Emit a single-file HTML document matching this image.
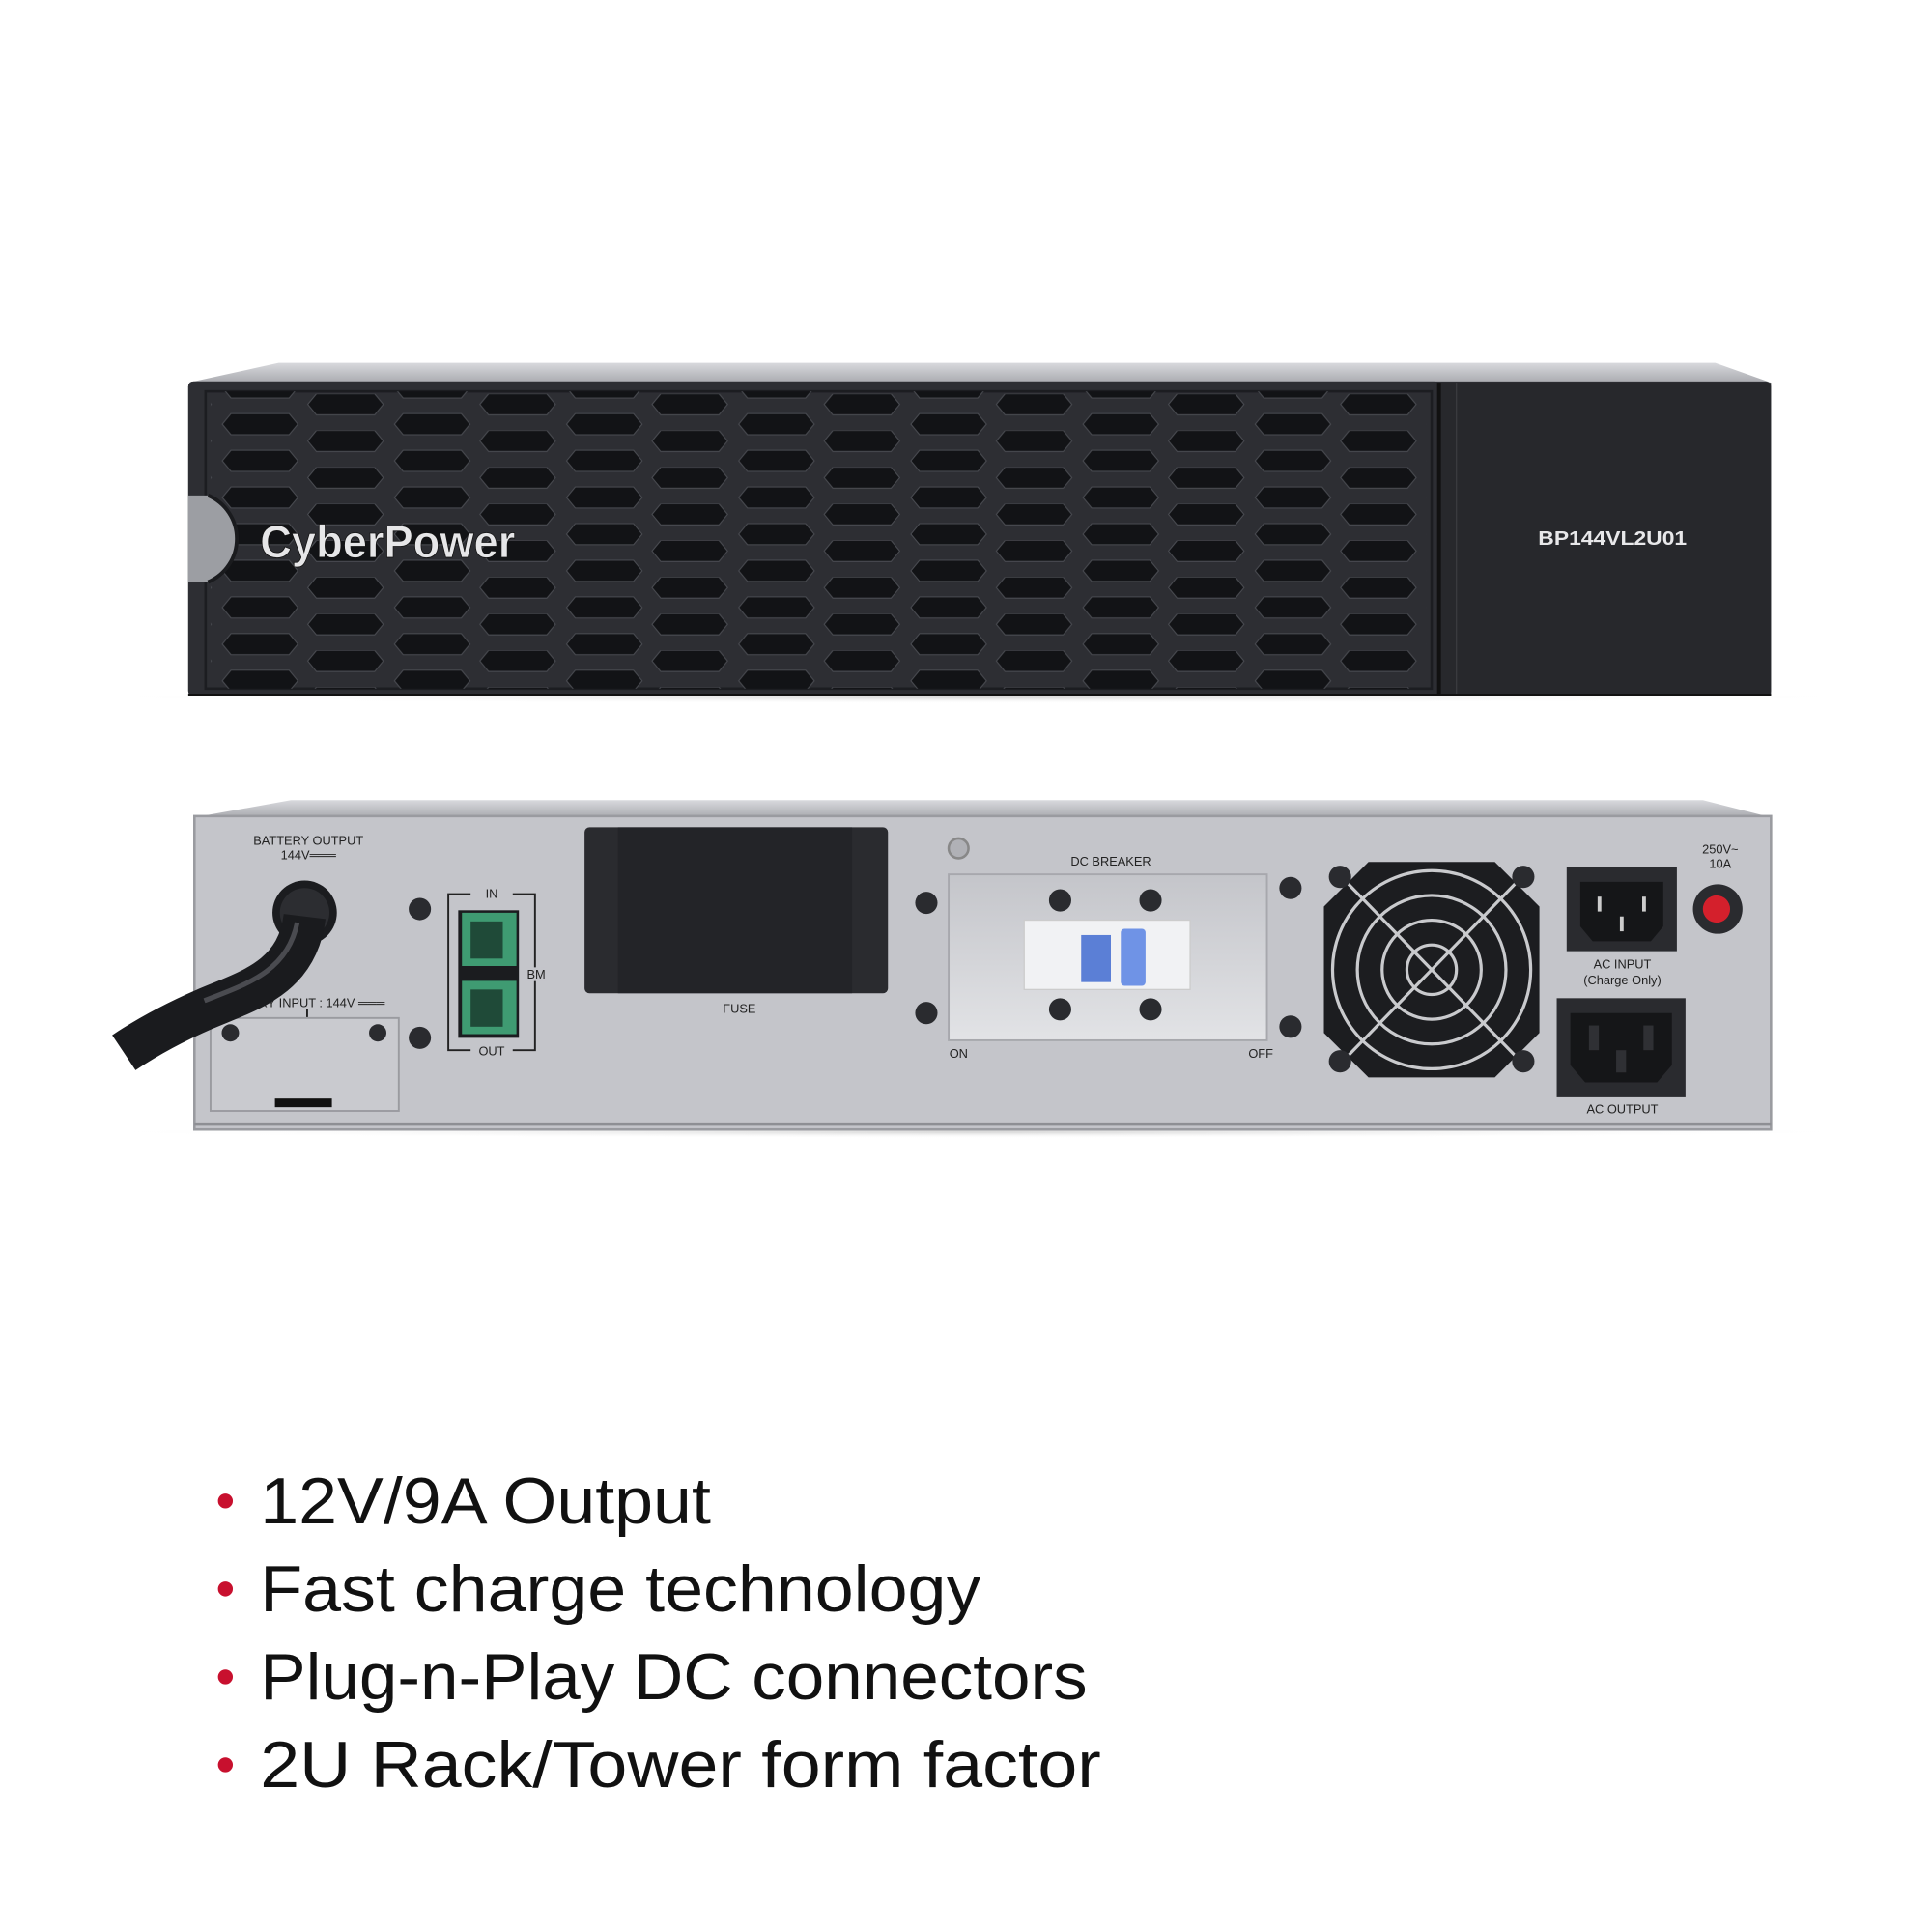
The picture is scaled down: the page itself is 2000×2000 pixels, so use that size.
<!DOCTYPE html>
<html><head><meta charset="utf-8"><style>
html,body{margin:0;padding:0;background:#fff;}
svg{display:block;}
text{font-family:"Liberation Sans",sans-serif;}
</style></head><body>
<svg width="2000" height="2000" viewBox="0 0 1560 1560" xmlns="http://www.w3.org/2000/svg">
<defs>
<pattern id="slots" patternUnits="userSpaceOnUse" x="148" y="318" width="139" height="29.6">
 <g fill="#121316" stroke="#4a4c52" stroke-width="0.8">
  <polygon transform="translate(100.5,0)" points="7,0 54,0 61,8.5 54,17 7,17 0,8.5"/>
  <polygon transform="translate(-38.5,0)" points="7,0 54,0 61,8.5 54,17 7,17 0,8.5"/>
  <polygon transform="translate(31.5,16)" points="7,0 54,0 61,8.5 54,17 7,17 0,8.5"/>
  <polygon transform="translate(31.5,-13.6)" points="7,0 54,0 61,8.5 54,17 7,17 0,8.5"/>
 </g>
</pattern>
<linearGradient id="topg" x1="0" y1="0" x2="0" y2="1"><stop offset="0" stop-color="#d8d9dd"/><stop offset="1" stop-color="#a9aaaf"/></linearGradient>
<linearGradient id="plate" x1="0" y1="0" x2="0" y2="1"><stop offset="0" stop-color="#c4c5ca"/><stop offset="1" stop-color="#e2e3e6"/></linearGradient>
<radialGradient id="shadow" cx="0.5" cy="0.5" r="0.5"><stop offset="0" stop-color="#bbb" stop-opacity="0.6"/><stop offset="1" stop-color="#fff" stop-opacity="0"/></radialGradient>
</defs>

<!-- FRONT UNIT -->
<ellipse cx="790" cy="563" rx="740" ry="5" fill="url(#shadow)"/>
<polygon points="152,309 225,293 1385,293 1430,309" fill="url(#topg)"/>
<rect x="152" y="308" width="1278" height="254" rx="4" fill="#2b2c31"/>
<rect x="152" y="308" width="1010" height="254" rx="4" fill="#2d2e33"/>
<rect x="166" y="316" width="990" height="240" fill="none" stroke="#1c1d21" stroke-width="2"/>
<rect x="170" y="316" width="982" height="240" fill="url(#slots)"/>
<rect x="1160" y="309" width="270" height="253" fill="#27282c"/>
<line x1="1162" y1="309" x2="1162" y2="562" stroke="#111" stroke-width="3"/>
<line x1="1176" y1="309" x2="1176" y2="562" stroke="#3a3b40" stroke-width="1"/>
<!-- left notch -->
<path d="M152,400 L168,400 A38,38 0 0 1 168,470 L152,470 Z" fill="#9c9ea3"/>
<path d="M168,400 A38,38 0 0 1 168,470" fill="none" stroke="#1a1b1e" stroke-width="3"/>
<!-- logo -->
<text x="210" y="450" font-size="37" font-weight="bold" fill="#e6e6e8" stroke="#111" stroke-width="0.6" textLength="206" lengthAdjust="spacingAndGlyphs">CyberPower</text>
<text x="1302" y="440" font-size="16" font-weight="bold" fill="#e8e8ea" text-anchor="middle" textLength="120" lengthAdjust="spacingAndGlyphs">BP144VL2U01</text>
<line x1="152" y1="561" x2="1430" y2="561" stroke="#111" stroke-width="2"/>

<!-- REAR UNIT -->
<ellipse cx="790" cy="914" rx="740" ry="5" fill="url(#shadow)"/>
<polygon points="157,660 235,646 1375,646 1430,660" fill="url(#topg)"/>
<rect x="157" y="659" width="1273" height="253" fill="#c4c5ca"/>
<rect x="157" y="659" width="1273" height="253" fill="none" stroke="#9a9ba0" stroke-width="2"/>
<line x1="157" y1="908" x2="1430" y2="908" stroke="#8e8f94" stroke-width="2"/>

<!-- battery output -->
<text x="249" y="682" font-size="10" fill="#222" text-anchor="middle">BATTERY OUTPUT</text>
<text x="249" y="694" font-size="10" fill="#222" text-anchor="middle">144V═══</text>
<!-- battery input plate -->
<text x="190" y="813" font-size="10" fill="#222">TTERY INPUT : 144V ═══</text>
<line x1="248" y1="815" x2="248" y2="822" stroke="#222" stroke-width="1.5"/>
<rect x="170" y="822" width="152" height="75" fill="#c9cacf" stroke="#9a9ba0" stroke-width="1.5"/>
<circle cx="186" cy="834" r="7" fill="#2a2b2f"/>
<circle cx="305" cy="834" r="7" fill="#2a2b2f"/>
<rect x="222" y="887" width="46" height="7" fill="#111"/>
<!-- cable gland + cable -->
<circle cx="246" cy="737" r="26" fill="#1b1c1f"/>
<circle cx="246" cy="737" r="20" fill="#2c2d31"/>
<path d="M246,740 C240,790 200,800 165,815 C135,828 115,840 100,850" fill="none" stroke="#1a1b1e" stroke-width="34" stroke-linecap="butt"/>
<path d="M240,745 C232,785 198,795 165,808" fill="none" stroke="#4a4b50" stroke-width="4"/>

<!-- screws -->
<g fill="#2a2b2f">
<circle cx="339" cy="734" r="9"/><circle cx="339" cy="838" r="9"/>
<circle cx="748" cy="729" r="9"/><circle cx="748" cy="818" r="9"/>
<circle cx="1042" cy="717" r="9"/><circle cx="1042" cy="829" r="9"/>
</g>
<!-- BM ports -->
<path d="M380,722 L362,722 L362,848 L380,848 M414,722 L432,722 L432,848 L414,848" fill="none" stroke="#222" stroke-width="1.5"/>
<text x="397" y="725" font-size="10" fill="#222" text-anchor="middle">IN</text>
<text x="397" y="852" font-size="10" fill="#222" text-anchor="middle">OUT</text>
<text x="433" y="790" font-size="10" fill="#222" text-anchor="middle" style="paint-order:stroke" stroke="#c4c5ca" stroke-width="4">BM</text>
<rect x="370" y="735" width="49" height="103" fill="#1b1c1f"/>
<rect x="373" y="737" width="44" height="43" fill="#3f9b72"/>
<rect x="373" y="792" width="44" height="43" fill="#3f9b72"/>
<rect x="380" y="744" width="26" height="30" fill="#1f4a38"/>
<rect x="380" y="799" width="26" height="30" fill="#1f4a38"/>

<!-- fuse -->
<rect x="472" y="668" width="245" height="134" rx="4" fill="#2a2b2f"/>
<rect x="499" y="668" width="189" height="134" fill="#232428"/>
<text x="597" y="818" font-size="10" fill="#222" text-anchor="middle">FUSE</text>

<!-- DC breaker -->
<circle cx="774" cy="685" r="8" fill="#b0b1b6" stroke="#888" stroke-width="2"/>
<text x="897" y="699" font-size="10" fill="#222" text-anchor="middle">DC BREAKER</text>
<rect x="766" y="706" width="257" height="134" fill="url(#plate)" stroke="#a7a8ad" stroke-width="1.5"/>
<g fill="#2a2b2f">
<circle cx="856" cy="727" r="9"/><circle cx="929" cy="727" r="9"/>
<circle cx="856" cy="815" r="9"/><circle cx="929" cy="815" r="9"/>
</g>
<rect x="827" y="743" width="134" height="56" fill="#f1f2f4" stroke="#ccc"/>
<rect x="873" y="755" width="24" height="38" fill="#5b7fd6"/>
<rect x="905" y="750" width="20" height="46" rx="3" fill="#6f93e6"/>
<text x="774" y="854" font-size="10" fill="#222" text-anchor="middle">ON</text>
<text x="1018" y="854" font-size="10" fill="#222" text-anchor="middle">OFF</text>

<!-- fan -->
<polygon points="1105,696 1207,696 1243,732 1243,834 1207,870 1105,870 1069,834 1069,732" fill="#1c1d20"/>
<g fill="none" stroke="#c9cacd" stroke-width="2.5">
<circle cx="1156" cy="783" r="20"/><circle cx="1156" cy="783" r="40"/>
<circle cx="1156" cy="783" r="60"/><circle cx="1156" cy="783" r="80"/>
<line x1="1088" y1="713" x2="1224" y2="853"/><line x1="1224" y1="713" x2="1088" y2="853"/>
</g>
<g fill="#2a2b2f">
<circle cx="1082" cy="708" r="9"/><circle cx="1230" cy="708" r="9"/>
<circle cx="1082" cy="857" r="9"/><circle cx="1230" cy="857" r="9"/>
</g>

<!-- AC input -->
<rect x="1265" y="700" width="89" height="68" fill="#2a2b2f"/>
<path d="M1276,712 L1343,712 L1343,748 L1333,760 L1286,760 L1276,748 Z" fill="#151618"/>
<rect x="1290" y="724" width="3" height="12" fill="#ccc"/><rect x="1326" y="724" width="3" height="12" fill="#ccc"/><rect x="1308" y="740" width="3" height="12" fill="#ccc"/>
<text x="1310" y="782" font-size="10" fill="#222" text-anchor="middle">AC INPUT</text>
<text x="1310" y="795" font-size="10" fill="#222" text-anchor="middle">(Charge Only)</text>
<text x="1389" y="689" font-size="10" fill="#222" text-anchor="middle">250V~</text>
<text x="1389" y="701" font-size="10" fill="#222" text-anchor="middle">10A</text>
<circle cx="1387" cy="734" r="20" fill="#2a2b2f"/>
<circle cx="1386" cy="734" r="11" fill="#d4202c"/>

<!-- AC output -->
<rect x="1257" y="806" width="104" height="80" fill="#2a2b2f"/>
<path d="M1268,818 L1350,818 L1350,860 L1338,874 L1280,874 L1268,860 Z" fill="#151618"/>
<rect x="1283" y="828" width="8" height="20" fill="#2f3034"/><rect x="1327" y="828" width="8" height="20" fill="#2f3034"/><rect x="1305" y="848" width="8" height="18" fill="#2f3034"/>
<text x="1310" y="899" font-size="10" fill="#222" text-anchor="middle">AC OUTPUT</text>

<!-- BULLETS -->
<g fill="#c8102e">
<circle cx="182" cy="1212" r="6"/><circle cx="182" cy="1283" r="6"/>
<circle cx="182" cy="1354" r="6"/><circle cx="182" cy="1425" r="6"/>
</g>
<g font-size="53" fill="#111">
<text x="210" y="1230" textLength="364" lengthAdjust="spacingAndGlyphs">12V/9A Output</text>
<text x="210" y="1301" textLength="582" lengthAdjust="spacingAndGlyphs">Fast charge technology</text>
<text x="210" y="1372" textLength="668" lengthAdjust="spacingAndGlyphs">Plug-n-Play DC connectors</text>
<text x="210" y="1443" textLength="679" lengthAdjust="spacingAndGlyphs">2U Rack/Tower form factor</text>
</g>
</svg>
</body></html>
